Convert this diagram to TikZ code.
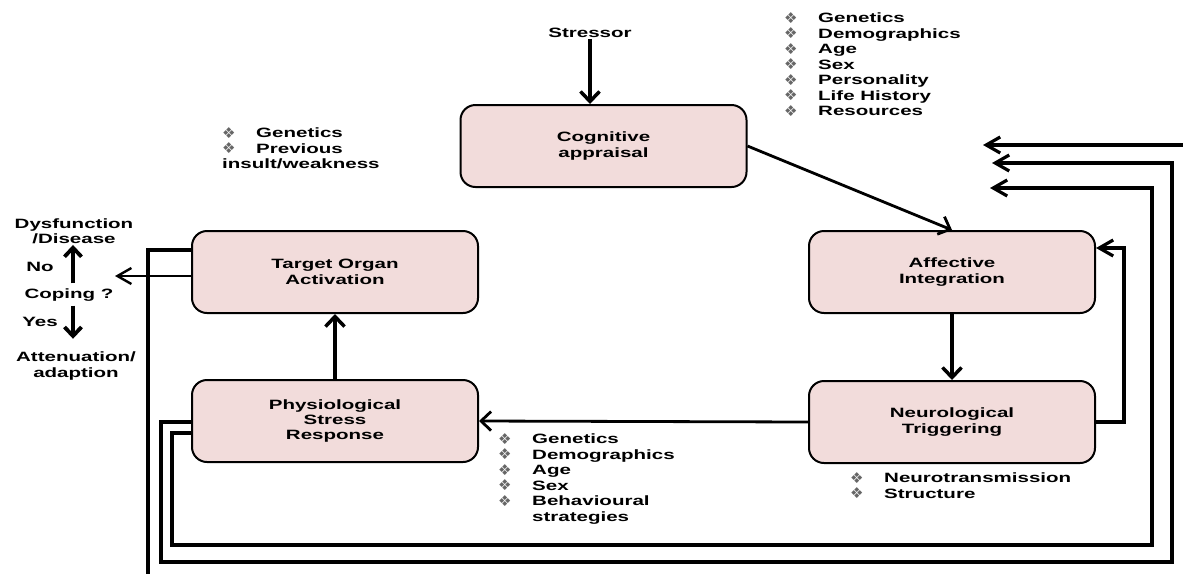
\documentclass[tikz,border=0pt]{standalone}
\usepackage{fontspec}
\setmainfont{Liberation Sans}[FakeStretch=1.52]
\newfontfamily\dejavu{DejaVu Sans}
\usetikzlibrary{arrows.meta}
\definecolor{boxpink}{HTML}{F2DCDB}
\newcommand{\dia}{{\dejavu\fontsize{15}{15}\selectfont\color{black!60}\smash{\raisebox{-0.5pt}{❖}}}}
\newcommand{\itm}[1]{\makebox[34pt][l]{\dia}#1}

\tikzset{
  stage/.style={draw, line width=2pt, fill=boxpink, rounded corners=15pt,
    minimum width=286pt, minimum height=82pt, align=center},
  lbl/.style={align=center, inner sep=1pt},
  lst/.style={align=left, anchor=north west, inner sep=0pt},
  flow/.style={line width=3.5pt, -{Straight Barb[length=10pt,width=19pt]}},
  updown/.style={line width=3.8pt, -{Straight Barb[length=9pt,width=17pt]}},
  fb/.style={line width=3.2pt, -{Straight Barb[length=14pt,width=16pt]}},
  loop/.style={line width=3.2pt},
}

\begin{document}
\begin{tikzpicture}[x=1pt,y=-1pt,font=\fontsize{13.5}{15.5}\selectfont\bfseries]
\useasboundingbox (0,0) rectangle (1183,574);

\node[stage] (cog) at (603.5,146) {Cognitive\\appraisal};
\node[stage] (aff) at (952,272) {Affective\\Integration};
\node[stage] (neu) at (952,422) {Neurological\\Triggering};
\node[stage] (tgt) at (335,272) {Target Organ\\Activation};
\node[stage] (phy) at (335,421) {Physiological\\Stress\\Response};

\node[lbl] (stressor) at (590,33) {Stressor};

\node[lst] (topfac) at (784,13) {\itm{Genetics}\\\itm{Demographics}\\\itm{Age}\\\itm{Sex}\\\itm{Personality}\\\itm{Life History}\\\itm{Resources}};
\node[lst] (organfac) at (222,128) {\itm{Genetics}\\\itm{Previous}\\insult/weakness};
\node[lst] (respfac) at (498,434) {\itm{Genetics}\\\itm{Demographics}\\\itm{Age}\\\itm{Sex}\\\itm{Behavioural}\\\hspace*{34pt}strategies};
\node[lst] (neufac) at (850,473) {\itm{Neurotransmission}\\\itm{Structure}};

\node[lbl] (dys) at (74,231) {Dysfunction\\/Disease};
\node[lbl] (no) at (40,267) {No};
\node[lbl] (coping) at (69,295) {Coping ?};
\node[lbl] (yes) at (40,322) {Yes};
\node[lbl] (att) at (76,366) {Attenuation/\\adaption};

\coordinate (copetip) at (115,276);
\coordinate (in1) at (983,145);
\coordinate (in2) at (992,163);
\coordinate (in3) at (990,188);
\coordinate (outR) at (1183,145);
\coordinate (outB) at (148,574);

% main loop
\draw[flow] (stressor) -- (stressor |- cog.north);
\draw[flow, line width=2.8pt] (cog.east) -- (aff.north);
\draw[flow] (aff.south) -- (neu.north);
\draw[flow, line width=2.8pt] (neu.west) -- (phy.east);
\draw[flow] (phy.north) -- (tgt.south);
\draw[fb] (neu.east) -- ++(28,0) |- ([yshift=24pt]aff.east);

% coping outcome
\draw[fb, line width=2.4pt] ([yshift=-4pt]tgt.west) -- (copetip);
\draw[updown, shorten <=4pt] ([xshift=4pt]coping.north) -- ([xshift=-1pt]dys.south);
\draw[updown, shorten >=12pt, shorten <=3pt] ([xshift=4pt]coping.south) -- ([xshift=-3pt]att.north);

% feedback to appraisal
\draw[loop] ([yshift=22pt]tgt.west) -| (outB);
\draw[fb] (outR) -- (in1);
\draw[fb] ([yshift=-1pt]phy.west) -| (161,562) -| (1172,163) -- (in2);
\draw[fb] ([yshift=-12pt]phy.west) -| (172,545) -| (1152,188) -- (in3);
\end{tikzpicture}
\end{document}
